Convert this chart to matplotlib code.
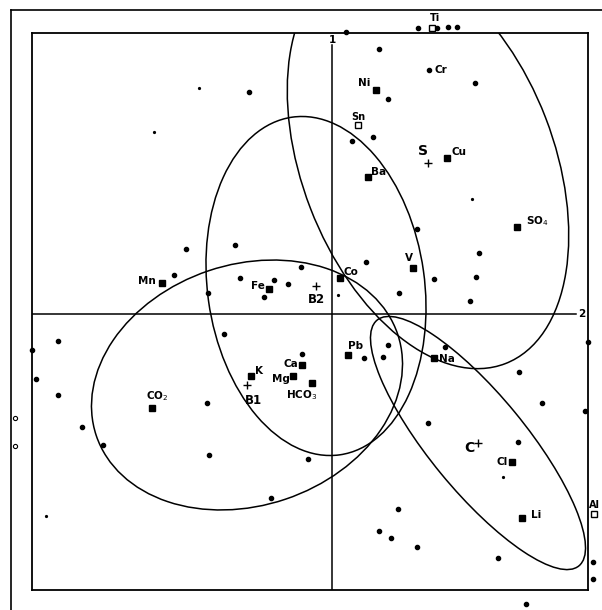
import matplotlib
matplotlib.use("Agg")
import matplotlib.pyplot as plt
from matplotlib.patches import Ellipse
from matplotlib.lines import Line2D

# Variables (filled squares) on factor plane 2 (horizontal) x 1 (vertical)
var_names = ["Ni", "Ba", "Cu", r"SO$_4$", "V", "Co", "Mn", "Fe", "Pb", "Na",
             "Ca", "Mg", r"HCO$_3$", "K", r"CO$_2$", "Cl", "Li"]
var_f2 = [0.44, 0.36, 1.15, 1.85, 0.81, 0.08, -1.70, -0.63, 0.16, 1.02,
          -0.30, -0.39, -0.20, -0.81, -1.80, 1.80, 1.90]
var_f1 = [2.24, 1.37, 1.56, 0.87, 0.46, 0.36, 0.31, 0.25, -0.41, -0.44,
          -0.51, -0.62, -0.69, -0.62, -0.94, -1.48, -2.04]
var_offsets = [(-8.6, 5), (7.9, 3.6), (8.6, 4.3), (14.4, 4.3), (-2.9, 7.2),
               (7.9, 4.3), (-10.8, 1.4), (-7.9, 2.2), (5.8, 6.5), (9.4, -0.7),
               (-7.9, 0.7), (-8.6, -2.2), (-7.2, -8.6), (5.8, 3.6), (3.6, 8.6),
               (-7.2, 0), (10, 2.2)]

# Variables shown with open squares (weak or off-plane)
open_names = ["Sn", "Ti", "Al"]
open_f2 = [0.26, 1.00, 2.62]
open_f1 = [1.89, 2.86, -2.00]
open_offsets = [(0, 5.8), (2.2, 7.2), (0, 6.5)]

# Cr is drawn as a sample-sized dot
cr_f2, cr_f1 = 0.97, 2.44

# Group centroids (crosses); the ellipses are centred on them
grp_names = ["S", "B2", "B1", "C"]
grp_f2 = [0.96, -0.16, -0.85, 1.46]
grp_f1 = [1.51, 0.28, -0.71, -1.29]
grp_offsets = [(-3.6, 8.6), (0, -10), (4.3, -10.8), (-6.5, -3.6)]
grp_sizes = [10, 8.5, 8.5, 10]
# ellipse width, height (axis units) and angle
ell_w = [4.30, 3.41, 3.18, 3.18]
ell_h = [2.52, 2.17, 2.41, 0.96]
ell_ang = [-68.9, -82.0, 18.6, -50.6]

# Samples (small dots)
smp_f2 = [0.47, 1.43, 0.56, 0.20, 0.41, 0.14, 0.86, 1.05, 1.16, 1.25,
          0.85, 1.47, 0.34, 1.02, 1.44, 0.67, 1.38, -0.83, -1.46, -0.97,
          -1.58, -1.24, -0.92, -0.58, -0.44, -0.31, -0.68, -1.08, -2.74, -3.00,
          -2.96, -2.74, -1.25, -2.50, -2.29, -1.23, -0.24, -0.30, -0.61, 0.56,
          0.32, 0.51, 1.13, 1.87, 2.10, 2.53, 0.96, 1.86, 0.66, 0.47,
          0.59, 0.85, 1.66, 2.61, 2.61, 1.94, 2.56]
smp_f1 = [2.65, 2.31, 2.15, 1.73, 1.77, 2.82, 2.86, 2.86, 2.87, 2.87,
          0.85, 0.61, 0.52, 0.35, 0.37, 0.21, 0.13, 2.22, 0.65, 0.69,
          0.39, 0.21, 0.36, 0.34, 0.30, 0.47, 0.17, -0.20, -0.27, -0.36,
          -0.65, -0.81, -0.89, -1.13, -1.31, -1.41, -1.45, -0.40, -1.84, -0.31,
          -0.44, -0.43, -0.33, -0.58, -0.89, -0.97, -1.09, -1.28, -1.95, -2.17,
          -2.24, -2.33, -2.44, -2.48, -2.65, -2.90, -0.28]

# faint specks
faint_f2 = [-1.33, -1.78, 0.06, -2.86, 1.40, 1.71]
faint_f1 = [2.26, 1.82, 0.19, -2.02, 1.15, -1.63]

# supplementary samples outside the frame (open circles)
sup_f2 = [-3.17, -3.17]
sup_f1 = [-1.04, -1.32]

W, H = 602, 610
fig = plt.figure(figsize=(W / 100, H / 100), dpi=100)
ax = fig.add_axes([32 / W, 1 - 590 / H, 556 / W, 557 / H])
ax.set_xlim(-3.0, 2.56)
ax.set_ylim(-2.76, 2.81)
ax.set_xticks([])
ax.set_yticks([])
for sp in ax.spines.values():
    sp.set_linewidth(1.3)

# factor axes
ax.plot([-3.0, 2.44], [0, 0], color="black", lw=1.1)
ax.plot([0, 0], [-2.76, 2.69], color="black", lw=1.1)
ax.text(0.0, 2.74, "1", ha="center", va="center", fontsize=7.5, fontweight="bold")
ax.text(2.50, 0.0, "2", ha="center", va="center", fontsize=7.5, fontweight="bold")

for cx, cy, w, h, a in zip(grp_f2, grp_f1, ell_w, ell_h, ell_ang):
    ax.add_patch(Ellipse((cx, cy), w, h, angle=a, fill=False,
                         edgecolor="black", lw=1.1))

ax.plot(smp_f2, smp_f1, "o", color="black", ms=3, clip_on=False)
ax.plot(faint_f2, faint_f1, "o", color="black", ms=1.3, clip_on=False)
ax.plot(sup_f2, sup_f1, "o", mfc="white", mec="black", ms=3, mew=0.8, clip_on=False)
ax.plot([cr_f2], [cr_f1], "o", color="black", ms=3)
ax.annotate("Cr", (cr_f2, cr_f1), xytext=(8.6, 0), textcoords="offset points",
            ha="center", va="center", fontsize=7.5, fontweight="bold")

ax.plot(var_f2, var_f1, "s", color="black", ms=5)
for n, x, y, off in zip(var_names, var_f2, var_f1, var_offsets):
    ax.annotate(n, (x, y), xytext=off, textcoords="offset points",
                ha="center", va="center", fontsize=7.5, fontweight="bold")

ax.plot(open_f2, open_f1, "s", mfc="white", mec="black", ms=4.5, mew=1,
        clip_on=False)
for n, x, y, off in zip(open_names, open_f2, open_f1, open_offsets):
    ax.annotate(n, (x, y), xytext=off, textcoords="offset points",
                ha="center", va="center", fontsize=7, fontweight="bold",
                annotation_clip=False)

ax.plot(grp_f2, grp_f1, "+", color="black", ms=6, mew=1)
for n, x, y, off, fs in zip(grp_names, grp_f2, grp_f1, grp_offsets, grp_sizes):
    ax.annotate(n, (x, y), xytext=off, textcoords="offset points",
                ha="center", va="center", fontsize=fs, fontweight="bold")

# outer frame of the figure
fig.add_artist(Line2D([11 / W, 11 / W], [0, 1 - 10 / H], color="black", lw=1.2,
                      transform=fig.transFigure))
fig.add_artist(Line2D([11 / W, 1], [1 - 10 / H, 1 - 10 / H], color="black", lw=1.2,
                      transform=fig.transFigure))

fig.savefig("out.png", dpi=100)
